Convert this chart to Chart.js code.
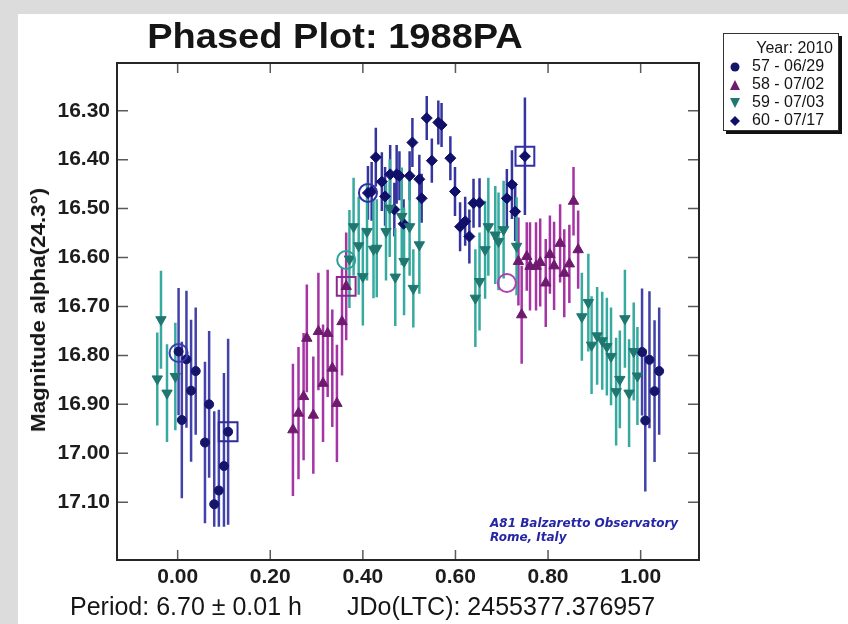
<!DOCTYPE html>
<html lang="en">
<head>
<meta charset="UTF-8">
<title>Phased Plot: 1988PA</title>
<script src="https://cdn.jsdelivr.net/npm/chart.js@4.4.4/dist/chart.umd.min.js"></script>
<style>
  html, body { margin: 0; padding: 0; }
  body {
    width: 848px; height: 624px; position: relative; overflow: hidden;
    background: #dcdcdc;
    font-family: "Liberation Sans", Arial, sans-serif;
  }
  #panel { position: absolute; left: 18px; top: 14px; right: 0; bottom: 0; background: #fff; }
  #plot { position: absolute; left: 0; top: 0; }
  .txt { position: absolute; white-space: nowrap; line-height: 1; color: #151515; }
  #title { left: 335px; top: 18px; font-size: 35px; font-weight: bold; transform: translateX(-50%) scaleX(1.087); }
  #ytitle { left: 38px; top: 310px; font-size: 20px; font-weight: bold; transform: translate(-50%, -50%) rotate(-90deg) scaleX(1.12); }
  #period { left: 70px; top: 594px; font-size: 25px; }
  #jdo { left: 347px; top: 594px; font-size: 25px; }
  #obs { left: 490px; top: 516px; font-family: "DejaVu Sans", sans-serif; font-size: 12px; font-weight: bold; font-style: italic; color: #2525a5; line-height: 14px; }
  #legend {
    position: absolute; left: 723px; top: 33px; width: 114px; height: 96px;
    border: 1px solid #333; background: #fff; box-shadow: 3px 3px 0 #111;
    font-size: 16px; color: #151515;
  }
  #legend .yr { position: absolute; right: 5px; top: 5px; }
  #legend .row { position: absolute; left: 6px; height: 18px; line-height: 18px; }
  #legend svg { vertical-align: -1px; margin-right: 12px; }
</style>
</head>
<body>
<div id="panel"></div>
<canvas id="plot" width="848" height="624"></canvas>
<div class="txt" id="title">Phased Plot: 1988PA</div>
<div class="txt" id="ytitle">Magnitude alpha(24.3°)</div>
<div class="txt" id="period">Period: 6.70 ± 0.01 h</div>
<div class="txt" id="jdo">JDo(LTC): 2455377.376957</div>
<div class="txt" id="obs">A81 Balzaretto Observatory<br>Rome, Italy</div>
<div id="legend">
  <div class="yr">Year: 2010</div>
  <div class="row" style="top:23px"><svg width="10" height="10"><circle cx="5" cy="5" r="4.5" fill="#15156a"/></svg>57 - 06/29</div>
  <div class="row" style="top:41px"><svg width="10" height="10"><polygon points="5,0 10,10 0,10" fill="#6e1a6e"/></svg>58 - 07/02</div>
  <div class="row" style="top:59px"><svg width="10" height="10"><polygon points="0,0 10,0 5,10" fill="#1f7770"/></svg>59 - 07/03</div>
  <div class="row" style="top:77px"><svg width="10" height="10"><polygon points="5,0 10,5 5,10 0,5" fill="#10106a"/></svg>60 - 07/17</div>
</div>
<script>
// axis ticks
const xTicks = [0.00, 0.20, 0.40, 0.60, 0.80, 1.00];
const yTicks = [16.30, 16.40, 16.50, 16.60, 16.70, 16.80, 16.90, 17.00, 17.10];

// session 57 - 06/29 (circles)
const s57Phase = [0.002, 0.019, 0.039, 0.029, 0.009, 0.068, 0.059, 0.109, 0.100, 0.089, 0.079,
                  1.003, 1.019, 1.040, 1.030, 1.010];
const s57Mag   = [16.792, 16.808, 16.832, 16.872, 16.932, 16.900, 16.978, 16.956, 17.026, 17.076, 17.104,
                  16.793, 16.809, 16.832, 16.873, 16.933];
const s57Err   = [0.13, 0.14, 0.13, 0.145, 0.16, 0.15, 0.165, 0.19, 0.19, 0.165, 0.19,
                  0.13, 0.14, 0.13, 0.145, 0.145];

// session 58 - 07/02 (triangles)
const s58Phase = [0.249, 0.261, 0.272, 0.279, 0.293, 0.304, 0.314, 0.324, 0.334, 0.344, 0.355, 0.364,
                  0.736, 0.743, 0.754, 0.761, 0.774, 0.783, 0.795, 0.804, 0.813, 0.826, 0.835, 0.846, 0.855, 0.865];
const s58Mag   = [16.952, 16.918, 16.884, 16.765, 16.922, 16.751, 16.857, 16.755, 16.826, 16.898, 16.731, 16.659,
                  16.608, 16.717, 16.598, 16.618, 16.618, 16.610, 16.652, 16.594, 16.617, 16.571, 16.632, 16.613, 16.485, 16.584];
const s58Err   = [0.135, 0.135, 0.13, 0.11, 0.12, 0.12, 0.12, 0.13, 0.12, 0.12, 0.11, 0.11,
                  0.09, 0.10, 0.07, 0.09, 0.09, 0.09, 0.09, 0.08, 0.09, 0.08, 0.09, 0.08, 0.07, 0.08];

// session 59 - 07/03 (inverted triangles)
const s59Phase = [-0.036, -0.044, -0.023, -0.005,
                  0.371, 0.380, 0.391, 0.400, 0.409, 0.423, 0.430, 0.450, 0.458, 0.470, 0.484, 0.489, 0.501, 0.509, 0.522,
                  0.643, 0.652, 0.664, 0.671, 0.686, 0.693, 0.704, 0.732,
                  0.873, 0.887, 0.894, 0.906, 0.917, 0.927, 0.936, 0.947, 0.955, 0.966, 0.975, 0.985, 0.993];
const s59Mag   = [16.727, 16.848, 16.877, 16.843,
                  16.603, 16.537, 16.576, 16.639, 16.547, 16.583, 16.581, 16.547, 16.499, 16.640, 16.516, 16.608, 16.537, 16.663, 16.574,
                  16.683, 16.649, 16.584, 16.537, 16.554, 16.567, 16.543, 16.577,
                  16.721, 16.692, 16.779, 16.760, 16.770, 16.782, 16.802, 16.874, 16.849, 16.725, 16.877, 16.792, 16.842];
const s59Err   = [0.10, 0.095, 0.10, 0.11,
                  0.10, 0.10, 0.10, 0.10, 0.10, 0.10, 0.10, 0.10, 0.10, 0.10, 0.10, 0.11, 0.10, 0.08, 0.10,
                  0.10, 0.10, 0.10, 0.10, 0.10, 0.10, 0.10, 0.10,
                  0.09, 0.10, 0.10, 0.10, 0.10, 0.10, 0.10, 0.11, 0.10, 0.10, 0.11, 0.10, 0.10];

// session 60 - 07/17 (diamonds)
const s60Phase = [0.411, 0.419, 0.428, 0.441, 0.448, 0.459, 0.468, 0.473, 0.479, 0.488, 0.501, 0.507, 0.522, 0.527,
                  0.538, 0.549, 0.563, 0.570, 0.589, 0.599, 0.610, 0.621, 0.630, 0.639, 0.652, 0.711, 0.722, 0.729, 0.750];
const s60Mag   = [16.468, 16.465, 16.395, 16.445, 16.475, 16.430, 16.502, 16.430, 16.433, 16.531, 16.433, 16.365, 16.440, 16.479,
                  16.315, 16.402, 16.324, 16.329, 16.397, 16.465, 16.537, 16.526, 16.557, 16.489, 16.488, 16.479, 16.451, 16.506, 16.393];
const s60Err   = [0.055, 0.06, 0.06, 0.06, 0.06, 0.06, 0.055, 0.06, 0.05, 0.05, 0.05, 0.05, 0.05, 0.05,
                  0.045, 0.045, 0.045, 0.045, 0.045, 0.05, 0.05, 0.05, 0.055, 0.05, 0.05, 0.06, 0.07, 0.06, 0.12];

// highlighted (open) markers: ring = circle, box = square
const s57Open = [[0.002, 16.795, 'ring'], [0.109, 16.956, 'box']];
const s58Open = [[0.364, 16.659, 'box'], [0.711, 16.652, 'ring']];
const s59Open = [[0.364, 16.605, 'ring']];
const s60Open = [[0.411, 16.468, 'ring'], [0.750, 16.393, 'box']];

const magClip = 17.15; // error bars are cut here in the original

function series(phase, mag, err, open, st) {
  const bars = [];
  phase.forEach((p, i) => {
    bars.push({x: p, y: mag[i] - err[i]}, {x: p, y: Math.min(mag[i] + err[i], magClip)}, {x: p, y: null});
  });
  const sets = [
    { type: 'line', data: bars, borderColor: st.bar, borderWidth: 2.5, pointRadius: 0,
      spanGaps: false, fill: false, tension: 0, order: 3 },
    { type: 'scatter', data: phase.map((p, i) => ({x: p, y: mag[i]})), pointStyle: st.shape,
      rotation: st.rot || 0, pointRadius: st.r, backgroundColor: st.mark, borderColor: st.mark,
      borderWidth: 1, order: 2 }
  ];
  ['ring', 'box'].forEach(kind => {
    const pts = open.filter(o => o[2] === kind);
    if (!pts.length) return;
    sets.push({ type: 'scatter', data: pts.map(o => ({x: o[0], y: o[1]})),
      pointStyle: kind === 'ring' ? 'circle' : 'rect', pointRadius: kind === 'ring' ? 9 : 13.3,
      backgroundColor: 'rgba(0,0,0,0)', borderColor: kind === 'ring' ? st.ring : st.box,
      borderWidth: 2, order: 1 });
  });
  return sets;
}

const datasets = [].concat(
  series(s59Phase, s59Mag, s59Err, s59Open, {bar: '#37aaa0', mark: '#1f7770', shape: 'triangle', rot: 180, r: 6, ring: '#2aa098', box: '#2aa098'}),
  series(s58Phase, s58Mag, s58Err, s58Open, {bar: '#a534a5', mark: '#6e1a6e', shape: 'triangle', r: 6, ring: '#b040b0', box: '#8c2a8c'}),
  series(s57Phase, s57Mag, s57Err, s57Open, {bar: '#4242aa', mark: '#15156a', shape: 'circle', r: 4.5, ring: '#3a3ab0', box: '#2e2e9a'}),
  series(s60Phase, s60Mag, s60Err, s60Open, {bar: '#3535a0', mark: '#10106a', shape: 'rectRot', r: 5.5, ring: '#3030a8', box: '#3030a8'})
);

const framePlugin = {
  id: 'frame',
  afterDatasetsDraw(chart) {
    const {ctx, chartArea: a, scales: {x, y}} = chart;
    ctx.save();
    ctx.strokeStyle = '#5a5a5a';
    ctx.lineWidth = 1.5;
    ctx.beginPath();
    xTicks.forEach(v => {
      const px = x.getPixelForValue(v);
      ctx.moveTo(px, a.bottom); ctx.lineTo(px, a.bottom - 10);
      ctx.moveTo(px, a.top); ctx.lineTo(px, a.top + 10);
    });
    yTicks.forEach(v => {
      const py = y.getPixelForValue(v);
      ctx.moveTo(a.left, py); ctx.lineTo(a.left + 11, py);
      ctx.moveTo(a.right, py); ctx.lineTo(a.right - 11, py);
    });
    ctx.stroke();
    ctx.strokeStyle = '#262626';
    ctx.lineWidth = 2;
    ctx.strokeRect(a.left, a.top, a.width, a.height);
    ctx.restore();
  }
};

const tickFont = {family: '"Liberation Sans", Arial, sans-serif', size: 21, weight: 'bold'};

new Chart(document.getElementById('plot'), {
  type: 'scatter',
  data: { datasets },
  options: {
    responsive: false,
    animation: false,
    layout: { padding: { left: 17, right: 149, top: 63, bottom: 24 } },
    plugins: { legend: { display: false }, tooltip: { enabled: false } },
    scales: {
      x: {
        type: 'linear', min: -0.131, max: 1.126,
        grid: { display: false, drawTicks: false }, border: { display: false },
        afterBuildTicks: s => { s.ticks = xTicks.map(v => ({value: v})); },
        afterFit: s => { s.height = 40; },
        ticks: { font: tickFont, color: '#1c1c1c', padding: 5, autoSkip: false, maxRotation: 0,
                 callback: v => v.toFixed(2) }
      },
      y: {
        type: 'linear', reverse: true, min: 16.2025, max: 17.218,
        grid: { display: false, drawTicks: false }, border: { display: false },
        afterBuildTicks: s => { s.ticks = yTicks.map(v => ({value: v})); },
        afterFit: s => { s.width = 100; },
        ticks: { font: tickFont, color: '#1c1c1c', padding: 7, autoSkip: false,
                 callback: v => v.toFixed(2) }
      }
    }
  },
  plugins: [framePlugin]
});
</script>
</body>
</html>
